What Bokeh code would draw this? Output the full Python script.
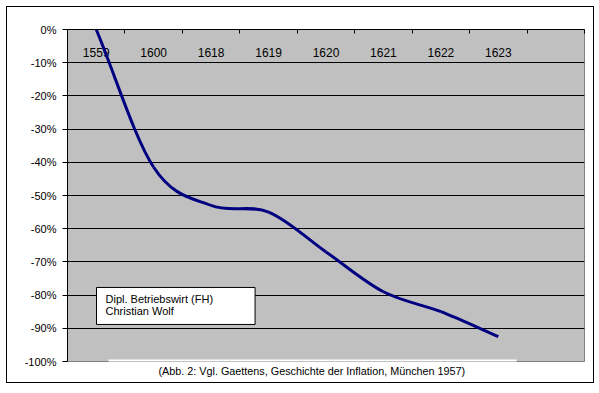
from bokeh.plotting import figure
from bokeh.models import Range1d, FixedTicker, LinearAxis, Label, ColumnDataSource, Title, BoxAnnotation
from bokeh.core.properties import value
from bokeh.embed import file_html
from bokeh.resources import INLINE

# ---- data ----
categories = ["1559", "1600", "1618", "1619", "1620", "1621", "1622", "1623"]
values = [0.0, -41.5, -53.0, -55.0, -67.0, -79.0, -85.0, -92.5]
n_slots = 9  # category slots on the axis (last one empty)
y_ticks = [0, -10, -20, -30, -40, -50, -60, -70, -80, -90, -100]
y_tick_labels = ["0%", "-10%", "-20%", "-30%", "-40%", "-50%", "-60%", "-70%", "-80%", "-90%", "-100%"]
note_text = "Dipl. Betriebswirt (FH)\nChristian Wolf"
caption_text = "(Abb. 2: Vgl. Gaettens, Geschichte der Inflation, München 1957)"

FONT = "Liberation Sans"

p = figure(width=588, height=377, output_backend="svg", toolbar_location=None,
           x_range=Range1d(0, n_slots), y_range=Range1d(-100, 0),
           x_axis_location=None, y_axis_location=None,
           min_border_left=60, min_border_right=11, min_border_top=22, min_border_bottom=23,
           background_fill_color="#C0C0C0", border_fill_color="white",
           outline_line_color="#808080", outline_line_width=1,
           styles={"border": "1px solid black", "margin-left": "6px", "margin-top": "6px"})

# left value axis
yax = LinearAxis(ticker=FixedTicker(ticks=y_ticks))
yax.major_label_overrides = {t: l for t, l in zip(y_ticks, y_tick_labels)}
yax.axis_line_color = "black"
yax.major_tick_line_color = "black"
yax.major_tick_out = 5
yax.major_tick_in = 0
yax.minor_tick_line_color = None
yax.major_label_standoff = 6
yax.major_label_text_font = FONT
yax.major_label_text_font_size = "11px"
yax.major_label_text_color = "black"
p.add_layout(yax, "left")

# top category axis (ticks between categories, labels drawn inside)
boundaries = list(range(n_slots + 1))
xax = LinearAxis(ticker=FixedTicker(ticks=boundaries))
xax.major_label_overrides = {b: "" for b in boundaries}
xax.axis_line_color = "black"
xax.major_tick_line_color = "black"
xax.major_tick_in = 4
xax.major_tick_out = 0
xax.minor_tick_line_color = None
xax.major_label_standoff = 0
p.add_layout(xax, "above")

p.xgrid.visible = False
p.ygrid.ticker = FixedTicker(ticks=y_ticks[:-1])
p.ygrid.grid_line_color = "black"
p.ygrid.grid_line_width = 1

# category labels inside the plot area
cx = [i + 0.5 for i in range(len(categories))]
p.text(x=cx, y=[-6.8] * len(categories), text=categories,
       text_font=value(FONT), text_font_size="12px", text_color="black",
       text_align="center", text_baseline="middle")

# smoothed line (Bezier segments through the data points)
xs = cx
ys = values
m = len(xs)
px = [2 * xs[0] - xs[1]] + xs + [2 * xs[-1] - xs[-2]]
py = [2 * ys[0] - ys[1]] + ys + [2 * ys[-1] - ys[-2]]
seg = dict(x0=[], y0=[], x1=[], y1=[], cx0=[], cy0=[], cx1=[], cy1=[])
for i in range(m - 1):
    j = i + 1
    seg["x0"].append(px[j]); seg["y0"].append(py[j])
    seg["x1"].append(px[j + 1]); seg["y1"].append(py[j + 1])
    seg["cx0"].append(px[j] + (px[j + 1] - px[j - 1]) / 6)
    seg["cy0"].append(py[j] + (py[j + 1] - py[j - 1]) / 6)
    seg["cx1"].append(px[j + 1] - (px[j + 2] - px[j]) / 6)
    seg["cy1"].append(py[j + 1] - (py[j + 2] - py[j]) / 6)
p.bezier(x0="x0", y0="y0", x1="x1", y1="y1", cx0="cx0", cy0="cy0", cx1="cx1", cy1="cy1",
         source=ColumnDataSource(seg), line_color="#000080", line_width=3)

# author note box
note = Label(x=0.505, y=-77.7, text=note_text, text_align="left", text_baseline="top",
             text_font=FONT, text_font_size="11px", text_color="black", text_line_height=1.0,
             background_fill_color="white", border_line_color="black", border_line_width=1,
             padding=dict(left=9, right=42, top=6, bottom=7))
p.add_layout(note)

# white strip of the caption box overlapping the plot area's bottom edge
p.add_layout(BoxAnnotation(left=0.714, right=7.82, bottom=-100.5, top=-99.4,
                           fill_color="white", fill_alpha=1.0, line_color=None))

# caption below the plot area
cap = Title(text=caption_text, align="left", offset=91, standoff=2,
            text_font=FONT, text_font_size="10.8px", text_font_style="normal", text_color="black")
p.add_layout(cap, "below")

open("out.html", "w").write(file_html(p, INLINE))
